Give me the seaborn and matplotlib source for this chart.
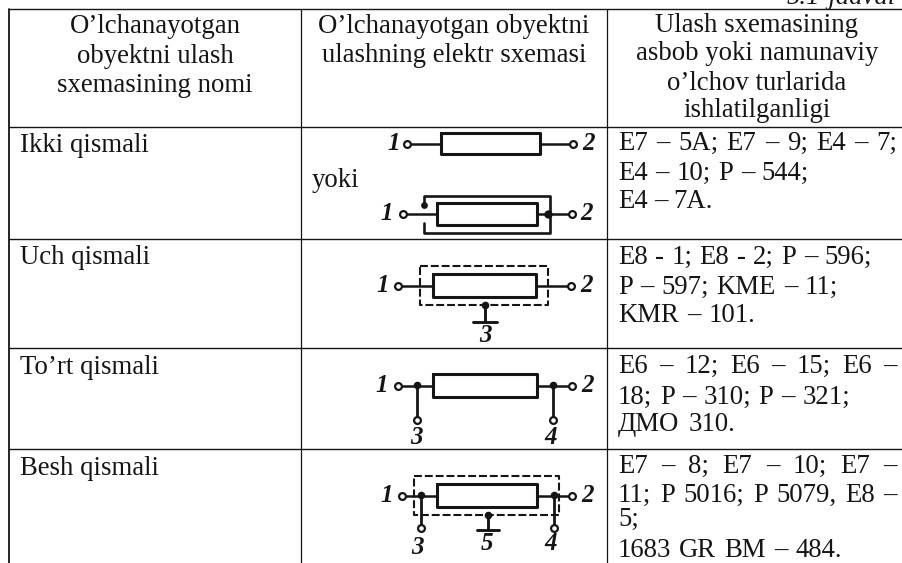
import matplotlib
matplotlib.use('Agg')
from matplotlib import pyplot as plt
import seaborn as sns

# table text
header_1 = ["O\u2019lchanayotgan", "obyektni ulash", "sxemasining nomi"]
header_2 = ["O\u2019lchanayotgan obyektni", "ulashning elektr sxemasi"]
header_3 = ["Ulash sxemasining", "asbob yoki namunaviy", "o\u2019lchov turlarida", "ishlatilganligi"]
row_names = ["Ikki qismali", "Uch qismali", "To\u2019rt qismali", "Besh qismali"]
row_1_codes = ["E7 \u2013 5A; E7 \u2013 9; E4 \u2013 7;", "E4 \u2013 10; P \u2013 544;", "E4 \u2013 7A."]
row_2_codes = ["E8 - 1; E8 - 2; P \u2013 596;", "P \u2013 597; KME \u2013 11;", "KMR \u2013 101."]
row_3_codes = ["E6 \u2013 12; E6 \u2013 15; E6 \u2013", "18; P \u2013 310; P \u2013 321;", "\u0414MO 310."]
row_4_codes = ["E7 \u2013 8; E7 \u2013 10; E7 \u2013", "11; P 5016; P 5079, E8 \u2013", "5;", "1683 GR BM \u2013 484."]
table_title = "5.1-jadval"
or_word = "yoki"

sns.set_theme(style='white')
plt.rcParams['font.family'] = ['Liberation Serif', 'DejaVu Serif']

fig = plt.figure(figsize=(9.03, 5.63), dpi=100)
ax = fig.add_axes([0, 0, 1, 1])
ax.set_xlim(0, 903)
ax.set_ylim(563, 0)
ax.axis('off')

FS = 19.3
INK = '#151515'
DASH = (0, (3.8, 1.4))


def wire(xs, ys, lw=1.8, ls='-'):
    sns.lineplot(x=xs, y=ys, ax=ax, color=INK, linewidth=lw, linestyle=ls,
                 estimator=None, sort=False, legend=False)


def dots(xs, ys, size=30):
    sns.scatterplot(x=xs, y=ys, ax=ax, color=INK, s=size, linewidth=0, legend=False, zorder=4)


def terminals(xs, ys):
    sns.scatterplot(x=xs, y=ys, ax=ax, facecolor='white', edgecolor=INK, s=24, linewidth=1.6,
                    legend=False, zorder=5)


def pin(label, x, y):
    ax.text(x, y, label, fontsize=18, style='italic', weight='bold', ha='center', va='center', color=INK)


def body(x0, x1, y0, y1, left, right):
    # resistor box with leads out to the two terminals
    mid = (y0 + y1) / 2
    wire([x0, x1, x1, x0, x0], [y0, y0, y1, y1, y0], lw=2.2)
    wire([left, x0], [mid, mid])
    wire([x1, right], [mid, mid])
    terminals([left, right], [mid, mid])


def ground(x, y0, y1, half):
    dots([x], [y0])
    wire([x, x], [y0, y1], lw=2.1)
    wire([x - half, x + half], [y1, y1], lw=2.1)


def fit_line(line, x0, x1, base):
    # spread the words of a line between x0 and x1, the book sets this column justified
    words = line.split(' ')
    texts = [ax.text(x0, base, w, fontsize=FS, ha='left', va='baseline', color=INK) for w in words]
    if len(words) == 1:
        return
    renderer = fig.canvas.get_renderer()
    widths = [t.get_window_extent(renderer).width for t in texts]
    gap = (x1 - x0 - sum(widths)) / (len(words) - 1)
    x = x0
    for t, w in zip(texts, widths):
        t.set_x(x)
        x += w + gap


# table rules
for y in [9, 127, 239, 348, 449]:
    wire([9, 903], [y, y], lw=1.0)
wire([9, 9], [9, 563], lw=1.3)
wire([301, 301], [9, 563], lw=0.9)
wire([607, 607], [9, 563], lw=0.9)

# header + title, the title is cut by the top of the scan
ax.text(787, 4, table_title, fontsize=FS, style='italic', ha='left', va='baseline', color=INK)
for lines, cx, bases in [(header_1, 155, [33, 63, 92]), (header_2, 454, [33, 62]),
                         (header_3, 757, [32, 60, 90, 117])]:
    for line, base in zip(lines, bases):
        ax.text(cx, base, line, fontsize=FS, ha='center', va='baseline', color=INK)

# first column
for name, base in zip(row_names, [152, 264, 374, 475]):
    ax.text(20, base, name, fontsize=FS, ha='left', va='baseline', color=INK)

# third column, right edges read per line
for lines, bases, ends in [(row_1_codes, [150, 180, 208], [897, 809, 713]),
                           (row_2_codes, [264, 294, 322], [872, 838, 755]),
                           (row_3_codes, [373, 404, 431], [897, 850, 735]),
                           (row_4_codes, [473, 502, 526, 557], [897, 897, 638, 842])]:
    for line, base, end in zip(lines, bases, ends):
        fit_line(line, 618, end, base)

ax.text(312, 187, or_word, fontsize=FS, ha='left', va='baseline', color=INK)

# two-terminal, plain
body(441, 540, 133, 154, 407, 573)
pin('1', 394, 143)
pin('2', 589, 143)

# two-terminal, guarded
body(437, 537, 203, 225, 403, 572)
wire([424, 424, 550, 550, 424, 424], [205, 196, 196, 233, 233, 223], lw=1.9)
dots([424], [205], size=24)
dots([548], [214], size=36)
pin('1', 387, 213)
pin('2', 587, 213)

# three-terminal
wire([420, 548, 548, 420, 420], [266, 266, 305, 305, 266], lw=1.5, ls=DASH)
body(433, 536, 274, 297, 398, 571)
ground(485, 305, 322, 12)
pin('1', 383, 285)
pin('2', 587, 285)
pin('3', 485, 335)

# four-terminal
body(433, 537, 374, 397, 398, 572)
wire([417, 417], [385, 420], lw=2.0)
wire([553, 553], [385, 420], lw=2.0)
dots([417, 553], [385, 385])
terminals([417, 553], [420, 420])
pin('1', 382, 385)
pin('2', 588, 385)
pin('3', 416, 437)
pin('4', 551, 438)

# five-terminal
wire([414, 559, 559, 414, 414], [476, 476, 515, 515, 476], lw=1.5, ls=DASH)
body(437, 537, 484, 507, 402, 572)
wire([421, 421], [495, 528], lw=2.0)
wire([554, 554], [495, 528], lw=2.0)
dots([421, 554], [495, 495])
terminals([421, 554], [528, 528])
ground(488, 515, 530, 11)
pin('1', 387, 495)
pin('2', 588, 495)
pin('3', 417, 547)
pin('5', 487, 543)
pin('4', 551, 543)

fig.savefig('out.png', dpi=100)
